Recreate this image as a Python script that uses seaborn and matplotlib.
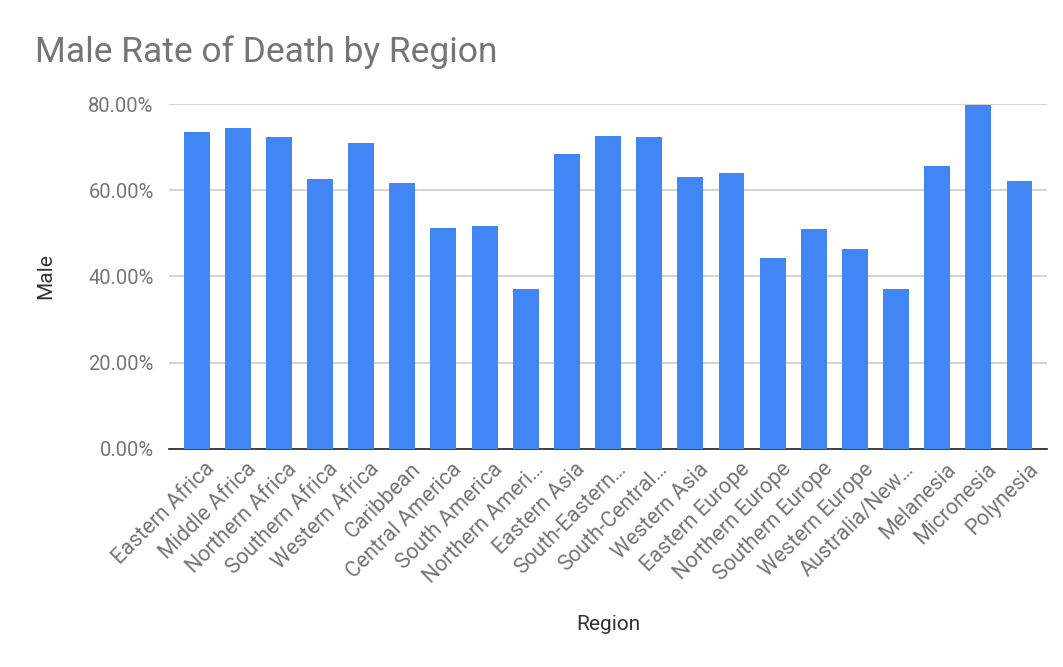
import matplotlib
matplotlib.use("Agg")
import matplotlib.pyplot as plt
import matplotlib.transforms as mtransforms
import seaborn as sns
import pandas as pd
from matplotlib.ticker import FuncFormatter

# Data
regions = [
    "Eastern Africa", "Middle Africa", "Northern Africa", "Southern Africa",
    "Western Africa", "Caribbean", "Central America", "South America",
    "Northern Ameri\u2026", "Eastern Asia", "South-Eastern\u2026", "South-Central\u2026",
    "Western Asia", "Eastern Europe", "Northern Europe", "Southern Europe",
    "Western Europe", "Australia/New\u2026", "Melanesia", "Micronesia", "Polynesia",
]
male_rate = [
    0.735, 0.744, 0.723, 0.626, 0.710, 0.617, 0.512, 0.517,
    0.371, 0.684, 0.726, 0.723, 0.631, 0.640, 0.443, 0.510,
    0.464, 0.371, 0.656, 0.798, 0.621,
]

df = pd.DataFrame({"Region": regions, "Male": male_rate})

sns.set_style("white")
plt.rcParams["font.family"] = ["Roboto", "DejaVu Sans"]

fig = plt.figure(figsize=(10.63, 6.67), dpi=100)
ax = fig.add_axes([0.159, 0.327, 0.826, 0.517])

sns.barplot(data=df, x="Region", y="Male", color="#4285f4", width=0.63,
            saturation=1, edgecolor="none", ax=ax, zorder=3)

ax.set_ylim(0, 0.8)
ax.set_yticks([0, 0.2, 0.4, 0.6, 0.8])
ax.yaxis.set_major_formatter(FuncFormatter(lambda v, p: f"{v * 100:.2f}%"))
ax.set_xlim(-0.67, len(regions) - 0.33)
ax.grid(axis="y", color="#cccccc", linewidth=1.2, zorder=0)

for s in ["top", "right", "left"]:
    ax.spines[s].set_visible(False)
ax.spines["bottom"].set_color("#333333")
ax.spines["bottom"].set_linewidth(1.3)

ax.tick_params(axis="both", length=0, colors="#757575")
ax.tick_params(axis="y", labelsize=14.5, pad=11)
ax.tick_params(axis="x", labelsize=15.5, pad=7)
shift = mtransforms.ScaledTranslation(0.08, 0, fig.dpi_scale_trans)
for lab in ax.get_xticklabels():
    lab.set_rotation(45)
    lab.set_ha("right")
    lab.set_va("top")
    lab.set_rotation_mode("anchor")
    lab.set_transform(lab.get_transform() + shift)

ax.set_xlabel("Region", fontsize=15, color="#333333", labelpad=20)
ax.set_ylabel("Male", fontsize=15, color="#333333", labelpad=24)

fig.text(0.033, 0.907, "Male Rate of Death by Region", fontsize=25.5,
         color="#757575", va="baseline")

fig.savefig("out.png", dpi=100)
